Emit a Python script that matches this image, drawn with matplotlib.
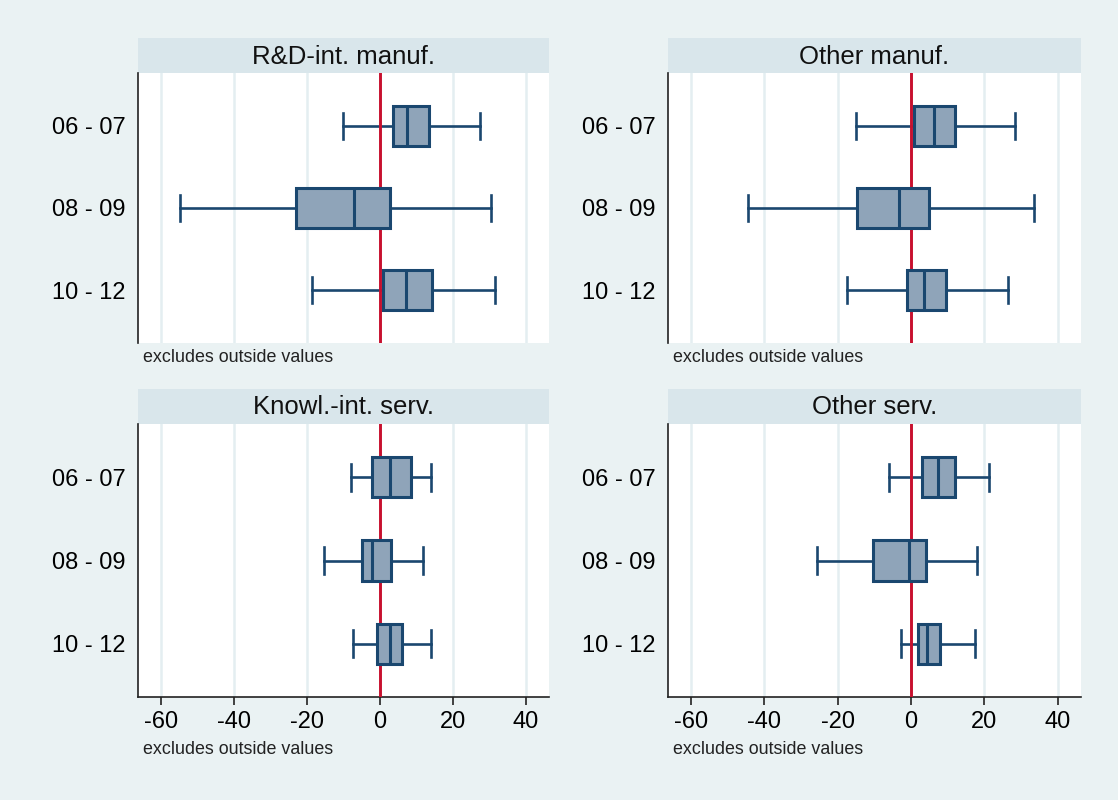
import matplotlib
matplotlib.use("Agg")
import matplotlib.pyplot as plt
from matplotlib.patches import Rectangle

plt.rcParams['font.family'] = ['Liberation Sans', 'DejaVu Sans']
plt.rcParams['axes.unicode_minus'] = False

periods = ["06 - 07", "08 - 09", "10 - 12"]
panel_titles = ["R&D-int. manuf.", "Other manuf.", "Knowl.-int. serv.", "Other serv."]

# per panel: lower whisker, Q1, median, Q3, upper whisker for each period
rd_manuf = [(-10.0, 3.7, 7.5, 13.4, 27.6),
            (-54.8, -23.1, -7.2, 2.7, 30.4),
            (-18.6, 0.9, 7.1, 14.4, 31.7)]
other_manuf = [(-15.0, 0.9, 6.2, 12.1, 28.5),
               (-44.5, -14.7, -3.4, 4.9, 33.6),
               (-17.4, -1.1, 3.6, 9.6, 26.4)]
knowl_serv = [(-8.0, -2.2, 2.9, 8.6, 14.0),
              (-15.2, -5.0, -2.0, 3.1, 11.9),
              (-7.4, -0.9, 2.7, 6.2, 14.0)]
other_serv = [(-5.9, 2.9, 7.5, 12.0, 21.3),
              (-25.7, -10.4, -0.4, 4.2, 18.1),
              (-2.8, 2.0, 4.5, 8.0, 17.5)]
panel_data = [rd_manuf, other_manuf, knowl_serv, other_serv]
xticks = [-60, -40, -20, 0, 20, 40]

BG = "#EAF2F3"
STRIP = "#D9E6EB"
GRID = "#E4EEF1"
NAVY = "#1A476F"
FILL = "#8FA4B9"
RED = "#C8102E"

W, H = 1118, 800
fig = plt.figure(figsize=(W / 100, H / 100), dpi=100, facecolor=BG)

# pixel boxes (left, top, right, bottom)
boxes_px = [(138, 73, 549, 343), (668, 73, 1081, 343),
            (138, 424, 549, 697), (668, 424, 1081, 697)]
strip_h = 35

for i, (title, data, (l, t, r, b)) in enumerate(zip(panel_titles, panel_data, boxes_px)):
    ax = fig.add_axes([l / W, 1 - b / H, (r - l) / W, (b - t) / H])
    ax.set_facecolor("white")
    stats = []
    for p, (wl, q1, med, q3, wh) in zip(periods, data):
        stats.append(dict(whislo=wl, q1=q1, med=med, q3=q3, whishi=wh, fliers=[], label=p))
    ax.bxp(stats, positions=[1, 2, 3], widths=0.485, capwidths=0.32,
           orientation='horizontal', patch_artist=True, showfliers=False,
           boxprops=dict(facecolor=FILL, edgecolor=NAVY, linewidth=2.2, zorder=4),
           medianprops=dict(color=NAVY, linewidth=2.2, zorder=5),
           whiskerprops=dict(color=NAVY, linewidth=1.9, zorder=2),
           capprops=dict(color=NAVY, linewidth=1.9, zorder=2))
    ax.axvline(0, color=RED, linewidth=2.1, zorder=3)
    ax.set_xlim(-66.3, 46.4)
    ax.set_ylim(3.64, 0.36)
    ax.set_xticks(xticks)
    ax.grid(axis='x', color=GRID, linewidth=1.8, zorder=0)
    ax.set_axisbelow(True)
    ax.tick_params(axis='y', length=0, pad=9, labelsize=17)
    for s in ['top', 'right']:
        ax.spines[s].set_visible(False)
    ax.spines['left'].set_color("#222222")
    ax.spines['left'].set_linewidth(1.2)
    if i < 2:
        ax.spines['bottom'].set_visible(False)
        ax.tick_params(axis='x', length=0, labelbottom=False)
        note_y = 357
    else:
        ax.spines['bottom'].set_color("#222222")
        ax.spines['bottom'].set_linewidth(1.2)
        ax.tick_params(axis='x', length=6, width=1.2, color="#222222", labelsize=17, pad=4)
        note_y = 750
    # strip
    ax.add_patch(Rectangle((0, 1), 1, strip_h / (b - t), transform=ax.transAxes,
                           facecolor=STRIP, edgecolor='none', clip_on=False))
    ax.text(0.5, 1 + (strip_h / 2 - 1) / (b - t), title, transform=ax.transAxes,
            ha='center', va='center', fontsize=18.5, color="#111111")
    fig.text((l + 5) / W, 1 - note_y / H, "excludes outside values",
             ha='left', va='center', fontsize=12.9, color="#222222")

fig.savefig("out.png", dpi=100, facecolor=BG)
